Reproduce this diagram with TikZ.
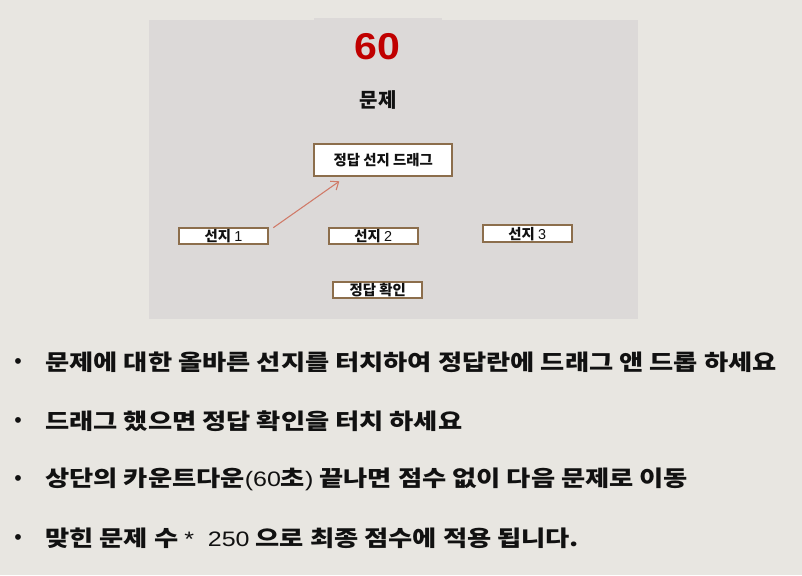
\documentclass[tikz,border=0pt]{standalone}
\usepackage{fontspec}
\usetikzlibrary{arrows.meta}
\newfontfamily\kr{Noto Sans CJK KR}[WordSpace=2.4]
\newfontfamily\krbox{Noto Sans CJK KR}
\newfontfamily\ar{Liberation Sans}
\definecolor{outerbg}{RGB}{232,230,225}
\definecolor{panelbg}{RGB}{220,217,216}
\definecolor{boxline}{RGB}{140,110,76}
\definecolor{arrowc}{RGB}{208,122,104}
\definecolor{timer}{RGB}{192,0,0}
\definecolor{txt}{RGB}{17,17,17}
\tikzset{
  choicebox/.style={draw=boxline, line width=1.5pt, fill=white, inner sep=0pt,
    minimum width=66.5pt, minimum height=12.5pt, font=\krbox\bfseries\fontsize{10.8pt}{12pt}\selectfont, text=txt},
  dragbox/.style={choicebox, minimum width=103.5pt, minimum height=24.3pt},
  bullettext/.style={anchor=west, inner sep=0pt, font=\kr\bfseries\fontsize{16.5pt}{20pt}\selectfont, text=txt},
  bulletdot/.style={anchor=base, inner sep=0pt, font=\ar\fontsize{16pt}{18pt}\selectfont, text=txt},
  dragarrow/.style={draw=arrowc, line width=0.8pt, -{Straight Barb[length=5pt,width=8pt]}}
}
\newcommand{\latinpart}[1]{{\ar\mdseries\fontsize{15.7pt}{18pt}\selectfont #1}}
\newcommand{\widen}[1]{\scalebox{1.195}[1]{#1}}
\begin{document}
\begin{tikzpicture}[x=0.75pt, y=-0.75pt]
\useasboundingbox (0,0) rectangle (802,575);
\fill[outerbg] (0,0) rectangle (802,575);
% panel with tab
\fill[panelbg] (149,20) rectangle (638,318.5);
\fill[panelbg] (314,17.5) rectangle (442,20.5);
% timer and title
\node[inner sep=0pt, text=timer, font=\ar\bfseries\fontsize{28pt}{30pt}\selectfont] (timer) at (377.5,46.5) {\scalebox{1.1}[1]{60}};
\node[inner sep=0pt, text=txt, font=\krbox\bfseries\fontsize{15pt}{17pt}\selectfont] (title) at (378,100) {문제};
% boxes
\node[dragbox] (drag) at (383.3,160) {정답 선지 드래그};
\node[choicebox] (c1) at (223.5,236) {선지 {\ar\mdseries 1}};
\node[choicebox] (c2) at (373.3,236) {선지 {\ar\mdseries 2}};
\node[choicebox] (c3) at (527.3,233.8) {선지 {\ar\mdseries 3}};
\node[choicebox] (check) at (377.8,290) {정답 확인};
% drag arrow
\coordinate (arrA) at (273.3,227.7);
\coordinate (arrB) at (339.3,181.3);
\draw[dragarrow] (arrA) -- (arrB);
% bullet list
\node[bulletdot] (b1) at (18,368.5) {•};
\node[bulletdot] (b2) at (18,427.5) {•};
\node[bulletdot] (b3) at (18,485.5) {•};
\node[bulletdot] (b4) at (18,544.5) {•};
\node[bullettext] (t1) at (45,362) {\widen{문제에 대한 올바른 선지를 터치하여 정답란에 드래그 앤 드롭 하세요}};
\node[bullettext] (t2) at (45,421) {\widen{드래그 했으면 정답 확인을 터치 하세요}};
\node[bullettext] (t3) at (45,479) {\widen{상단의 카운트다운\latinpart{(60}초\latinpart{)} 끝나면 점수 없이 다음 문제로 이동}};
\node[bullettext] (t4) at (45,538) {\widen{맞힌 문제 수 \latinpart{*\ \ 250} 으로 최종 점수에 적용 됩니다.}};
\end{tikzpicture}
\end{document}
